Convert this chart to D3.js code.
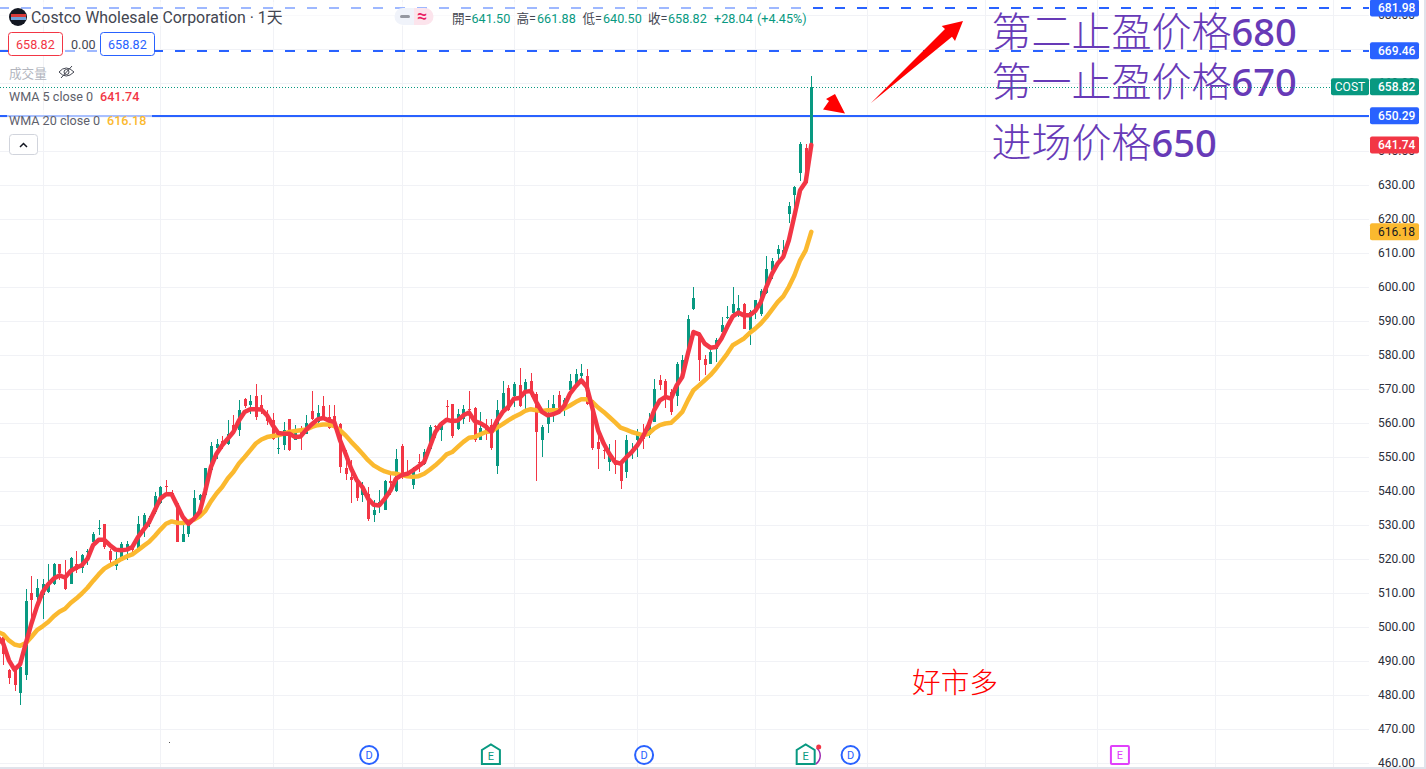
<!DOCTYPE html>
<html><head><meta charset="utf-8">
<style>html,body{margin:0;padding:0;background:#fff;overflow:hidden}svg{display:block}</style>
<script src="https://cdn.jsdelivr.net/npm/d3@7/dist/d3.min.js"></script>
</head><body><div id="c"></div>
<script>
const opens=[497,497.0,487.4,487.2,480.4,485.7,509.8,508.8,509.3,510.2,512.5,518.4,515.1,512.7,518.4,517.4,521.9,525,529,530.2,522.2,517.8,520.4,523,523.2,522.7,528.9,530.3,533.8,536.4,541.3,539.4,536.5,525,527.2,531.8,537.4,
538.7,546,552.6,554.6,553.7,559.3,557.8,566.9,565.1,567.8,565.1,562.7,560.7,552.2,553.4,561,554.8,558,556.8,563.4,560.2,564.8,561.7,561.9,559.6,546.8,544.1,542.3,538.7,539.2,532.8,536.2,534.5,542.8,539.9,553.1,545,541.6,548.6,
548,552.2,559.2,557.8,564.9,565.4,558.1,561.2,564.2,564.4,554.8,559.3,559.3,547.2,563.9,570.2,567.8,571,569,572.2,568.6,554.8,559.7,564.5,568.1,563.7,569.6,571.5,573.7,573.7,566.6,554.4,552.1,548.5,548.5,548,545.5,552.1,554.8,
556.3,556.3,560.3,572.5,572.2,569,567.8,575,581.3,593.6,586.2,578.9,577.2,581.8,586.7,590.7,592.3,591.6,595,587.4,593.3,591.9,598.2,605,609.6,608.5,621.5,626.9,633.5,640.9,641.5];
const closes=[495,492.1,484.9,482.8,488.2,507.5,507.8,511.5,512.7,512.7,518.4,515.8,511,520.1,516.8,521,522.2,527.2,529.2,523.5,519.6,519.8,524.3,524.5,522.5,530.3,532.8,532,538.4,541.1,541.1,538.2,525,527.2,530.8,538,538.7,
546.8,553.1,553.7,554.1,556.8,557.3,563.9,564.8,566.3,561.7,563.9,560.5,555.3,552.5,557.8,551.9,558.3,556.3,559.8,561.2,563,561.2,558.5,559.8,547,544.8,543.1,538,541.3,531.8,534.3,536.7,542.8,542.3,549.3,544.1,544.3,546.8,548.4,
551.4,558.9,558.8,559.9,564.7,556,562.7,564.2,563.7,554.8,558.6,557.8,552.7,563.7,568.8,563.7,571.5,564.8,572,568.4,557.3,558.9,562.2,565.4,563.9,566.6,572.2,574.3,574.7,565.4,552.7,552.2,551.9,550.1,547.5,542.9,554.8,552.4,556.8,
555.3,560.9,569.9,571,567.1,563.1,577.2,578.4,590.6,596.6,578.4,576.9,580.8,584.3,588.9,591.1,594.9,593.9,587.5,592.6,596.2,598.9,605.3,607.5,611,610.7,623.7,629.4,641.9,630.6,658.82];
const highs=[497.5,497.5,487.6,488.2,488.7,511,514.9,514,514,518.6,518.9,518.6,519.6,520.4,522.2,521.3,523,527.9,531.3,530.3,523,522,525,525.2,524,532.5,533.6,532.5,539.7,541.4,543.1,540.3,536.7,532.8,531.5,540.1,539.2,
546.8,554.4,555.3,556,560.9,562.2,566.6,567.4,568.1,571.3,568.1,563.7,562.9,556.3,560.2,561.2,559.5,559,562.2,569.3,565.3,567.8,565.1,565.1,559.8,551.9,549,542.6,542.6,541.1,537.2,540.1,543.1,544.6,552.2,553.7,549.2,547,550.9,
552.4,559.5,559.5,560.5,566.6,565.4,564.2,565.1,569.3,564.7,563.2,561.2,561.2,566.6,572.2,571,572,576.2,572.8,574.7,569,559.5,566.8,568.1,569.4,567.4,574.3,575.9,577.2,575.7,566.8,556.8,552.9,553.9,554.8,548.5,556.3,554,558.3,
559.6,563,572.8,574,573,570,577.9,579.9,591.6,600,586.7,579.9,581.8,585,591.1,594.3,600,597.5,595.3,593.1,596.2,599.5,609,608.5,612.2,613.7,625,629.6,642.6,641.9,661.88];
const lows=[494,488.7,483.3,481.1,476.9,484.3,501.9,505.8,502.4,509.8,512.2,513.7,510.9,512.5,515.8,515.8,518.1,524.5,526.9,522.8,518.6,516.6,519.6,519.6,521.3,522.3,526.4,529.4,533.3,536,539.7,537.2,525,525,526.4,531.5,532.8,
538.7,545.5,549.5,552.4,553.4,556.3,556.1,564.5,562.7,560.7,562.7,559.3,554.9,550.9,552.1,551.6,554.8,551.9,556.6,560.7,558.8,560.7,558.3,559.3,545.2,543.1,536.4,536.9,536.7,531.1,530.8,533.5,534.3,538.7,539.6,543.6,544.1,540.4,545.5,
547.5,551.9,555.6,554.6,560.7,555.6,557.8,559.7,560.2,554.4,554.8,555,552.1,544.8,563.7,563.5,564.7,564.7,563.7,567.6,542.9,549.9,557,560.2,563.2,562,569,571,571.5,565.1,552.1,546.5,549.5,545.8,544.8,540.4,543.9,549.5,549.9,
552.4,555.5,560.3,569.6,564.5,562.2,564.9,573,581.1,593.3,572.2,574,577.2,577.9,586.2,590.4,591.9,591.1,587.5,582.8,590.4,591.3,598,602.4,607.3,608.2,618.8,623.5,631,630.5,640.5];
const wma5=[497,495.05,490.15,487.4,489,495.05,500.9,506,510.2,512.5,514.2,515.1,514.5,516.4,517.4,518.1,520,524,525.6,525.6,524,522.7,522.5,522.7,523.5,526.4,528.6,530.8,534.3,537.7,539,539,535.7,532.3,530.3,531.8,533.8,
540,547,550.9,553.4,555.3,557.3,560.7,563.2,564,564,563.9,562.2,559.3,557,556.8,556.8,555.8,556,558,559.6,561,561.4,560.7,560.2,554.9,550.9,546.5,543.1,541.1,537.7,535.9,535.7,537.7,540.1,543.6,544.6,545,546,547.2,
548.5,552.9,557.3,559.6,560.9,560.5,560.7,562.2,563,560.5,559.9,558.9,557.3,560.7,563.2,564.7,567.1,567.3,569.1,569.4,566.1,563.2,562.2,562.5,563.2,565.1,568.6,570.7,572.5,570.5,564.2,557.8,553.9,550.9,548.5,548,549.8,551.4,553.4,
556,559.3,563.7,566.6,567.6,567.1,571,573.5,580.3,586.7,586,583.3,582.1,582.3,584.8,588.2,591.3,592.4,591.6,591.6,592.9,595.5,600,603.9,606.8,608.8,613.7,621,628.4,630.8,641.74];
const wma20=[498.5,497.8,496,494.8,494.4,495.2,497,499,500.15,501.4,503.1,504.4,505.3,507,508.3,509.8,511.5,513.5,515.4,517.1,518.1,518.9,519.9,520.7,521.3,522.5,523.8,525,526.7,528.6,530.3,531,530.6,530.5,531,531.5,532.5,
534.1,536.9,539.2,541.1,543.6,545.5,548,549.9,551.9,553.9,555.1,555.8,556.1,556.3,556.8,557.3,557.6,557.8,558,558.8,559.3,559.5,559.5,559,557.8,556.3,554.4,552.7,550.9,549,547.5,546.5,545.7,545.2,545,544.6,544.3,544.1,544.3,
545,546.2,547.5,549,550.7,551.4,552.9,554.4,555.6,555.8,556.6,557.3,557.5,558.6,559.6,560.7,561.7,562.5,563.5,564,563.7,563.5,563.7,563.7,563.7,564.2,565.1,566.1,566.9,566.9,566.1,564.5,563.2,561.7,560.2,558.6,558,557.3,556.8,
556.3,556.8,558.3,559.3,559.8,560,561.5,563.2,566.6,569.6,571,572.5,574,575.9,578.1,580.3,582.8,583.8,584.8,586.4,587.7,589.2,591.1,593.3,595.5,597.2,600,603.4,607.8,610.7,616.18];
const priceTicks=[460,470,480,490,500,510,520,530,540,550,560,570,580,590,600,610,620,630,640,650,660,670,680];
const gridIdx=[8,29,49,72,92,114,135,155,176,196,217,238];
const dividendIdx=[66.2,115.2,152];
const earningsIdx=[87.9,144];
const futureEarningsIdx=[200];
const tp2=681.98,tp1=669.46,entry=650.29,last=658.82,wma5Last=641.74,wma20Last=616.18;

const W=1426,H=769,GREEN="#089981",RED="#f23645",BLUE="#2962ff",YEL="#fbb92f",GRID="#f1f2f6";
const FONT="Roboto, 'Noto Sans CJK TC', sans-serif";
const x=d3.scaleLinear().domain([0,145]).range([-2.31,811.3]);
const y=d3.scaleLinear().domain([470,630]).range([728.8,184.8]);
const svg=d3.select("#c").append("svg").attr("width",W).attr("height",H).style("font-family",FONT);
const cx=i=>Math.round(x(i));

// grid
const g=svg.append("g").attr("shape-rendering","crispEdges");
g.selectAll(".h").data(priceTicks).join("rect").attr("x",0).attr("width",1369).attr("y",d=>Math.round(y(d))).attr("height",1).attr("fill",GRID);
g.selectAll(".v").data(gridIdx).join("rect").attr("x",d=>cx(d)).attr("width",1).attr("y",0).attr("height",767).attr("fill",GRID);

// annotation text
const addNote=(t,n,ty,tx)=>{const e=svg.append("text").attr("x",tx).attr("y",ty).attr("fill","#673ab7").attr("font-size",40);
 e.append("tspan").attr("font-family","'Noto Sans CJK SC'").attr("font-weight",300).text(t);
 e.append("tspan").attr("font-family","'Noto Sans','Open Sans'").attr("font-weight",500).attr("font-size",38).text(n);};
addNote("第二止盈价格","680",46,991.5);
addNote("第一止盈价格","670",96,991.5);
addNote("进场价格","650",157,991.5);
svg.append("text").attr("x",912).attr("y",693).attr("font-size",28.7).attr("fill","#ff0000").attr("font-family","'Noto Sans CJK SC'").attr("font-weight",300).text("好市多");

// price lines
const hline=(v,c,w,dash,off)=>svg.append("line").attr("x1",0).attr("x2",1369).attr("y1",Math.round(y(v))+(w%2?.5:0)).attr("y2",Math.round(y(v))+(w%2?.5:0)).attr("stroke",c).attr("stroke-width",w).attr("stroke-dasharray",dash).attr("stroke-dashoffset",off||0).attr("shape-rendering","crispEdges");
hline(last,GREEN,1,"1 2");
hline(tp2,BLUE,2,"10 12",1);
hline(tp1,BLUE,2,"10 12",1);
hline(entry,BLUE,2,null);

// candles
const idx=d3.range(opens.length);
const col=i=>closes[i]>=opens[i]?GREEN:RED;
const cg=svg.append("g").attr("shape-rendering","crispEdges");
cg.selectAll(".w").data(idx).join("rect").attr("x",cx).attr("width",1).attr("y",i=>y(highs[i])).attr("height",i=>y(lows[i])-y(highs[i])).attr("fill",col);
cg.selectAll(".b").data(idx).join("rect").attr("x",i=>cx(i)-1).attr("width",3)
 .attr("y",i=>y(Math.max(opens[i],closes[i]))).attr("height",i=>Math.max(1,Math.abs(y(opens[i])-y(closes[i])))).attr("fill",col);

// WMA
const ln=arr=>d3.line().x((d,i)=>x(i)).y(d=>y(d))(arr);
svg.append("path").attr("d",ln(wma20)).attr("fill","none").attr("stroke",YEL).attr("stroke-width",4.5).attr("stroke-linejoin","round").attr("stroke-linecap","round");
svg.append("path").attr("d",ln(wma5)).attr("fill","none").attr("stroke",RED).attr("stroke-width",4.5).attr("stroke-linejoin","round").attr("stroke-linecap","round");

// arrows
svg.append("path").attr("fill","#ff0000").attr("d","M871,103 L945,29 L941.7,26 L963,21 L955,41 L952,36.7 Z");
svg.append("path").attr("fill","#ff0000").attr("d","M845,113.5 L823,109.5 L829,101 L826,99 L835,94 Z");

// axis
const ax=d3.axisRight(y).tickValues(priceTicks).tickSize(0).tickPadding(0).tickFormat(d3.format(".2f"));
const axg=svg.append("g").attr("transform","translate(1378,0)").call(ax);
axg.select(".domain").remove();
axg.selectAll("text").attr("font-family",FONT).attr("font-size",12).attr("fill","#2a2e39");

// axis labels
const tag=(v,bg,fg,lab,wt)=>{const ty=y(v);
 svg.append("rect").attr("x",1370).attr("y",ty-8.5).attr("width",49).attr("height",17).attr("rx",2).attr("fill",bg);
 svg.append("text").attr("x",1378).attr("y",ty).attr("dy","0.36em").attr("fill",fg).attr("font-size",12).attr("font-weight",wt||500).text(d3.format(".2f")(v));
 if(lab){svg.append("rect").attr("x",1331).attr("y",ty-8.5).attr("width",38).attr("height",17).attr("rx",2).attr("fill",bg);
  svg.append("text").attr("x",1350).attr("y",ty).attr("dy","0.36em").attr("text-anchor","middle").attr("fill",fg).attr("font-size",12).text(lab);}};
tag(tp2,BLUE,"#fff");tag(tp1,BLUE,"#fff");tag(last,GREEN,"#fff","COST");tag(entry,BLUE,"#fff");tag(wma5Last,RED,"#fff");tag(wma20Last,YEL,"#131722",null,400);

// legend veils
const veil=(a,b,c,d,o)=>svg.append("rect").attr("x",a).attr("y",b).attr("width",c).attr("height",d).attr("fill","#fff").attr("opacity",o);
veil(0,2,806,24,.55);veil(63,36,37,18,.55);veil(7,110,145,18,.6);
const T=(s,tx,ty,c,fs,wt)=>{const t=svg.append("text").attr("x",tx).attr("y",ty).attr("dy","0.36em").attr("fill",c).attr("font-size",fs||12).text(s);if(wt)t.attr("font-weight",wt);return t;};
svg.append("circle").attr("cx",18).attr("cy",17).attr("r",9).attr("fill","#131722");
svg.append("rect").attr("x",11).attr("y",14).attr("width",15).attr("height",3).attr("fill","#d83a3a");
svg.append("rect").attr("x",11).attr("y",17).attr("width",15).attr("height",3).attr("fill","#6fa0d8");
T("Costco Wholesale Corporation · 1天",31,17,"#434651",15.9);
svg.append("path").attr("d","M403,8 H414 V25 H403 A8.5,8.5 0 0 1 403,8 Z").attr("fill","#f0f3fa");
svg.append("path").attr("d","M414,8 H425 A8.5,8.5 0 0 1 425,25 H414 Z").attr("fill","#fce4ec");
svg.append("rect").attr("x",400).attr("y",15).attr("width",10).attr("height",3).attr("rx",1.5).attr("fill","#9598a1");
T("≈",417,16,"#e91e63",18,500);
[["開=",452,"#434651"],["641.50",471.5,GREEN],["高=",516.5,"#434651"],["661.88",537,GREEN],["低=",582.5,"#434651"],["640.50",603,GREEN],["收=",648,"#434651"],["658.82",668,GREEN],["+28.04",714,GREEN],["(+4.45%)",757,GREEN]]
 .forEach(d=>T(d[0],d[1],18,d[2],12.6));
const box=(a,c,s)=>{svg.append("rect").attr("x",a+.5).attr("y",32.5).attr("width",54).attr("height",23).attr("rx",3).attr("fill","#fff").attr("stroke",c);T(s,a+8,44,c,12.6);};
box(8,RED,"658.82");box(100,BLUE,"658.82");
T("0.00",71,44,"#434651",12.6);
T("成交量",9,73,"#b2b5be",12.6);
svg.append("path").attr("d","M59,72 Q66,64 74,72 Q66,80 59,72 Z M61,78 L72,66").attr("fill","none").attr("stroke","#434651").attr("stroke-width",1);
svg.append("circle").attr("cx",66.5).attr("cy",72).attr("r",2.5).attr("fill","none").attr("stroke","#434651");
T("WMA 5 close 0",9,96,"#5d606b",12.6);T(wma5Last.toFixed(2),100,96,RED,12.6,500);
T("WMA 20 close 0",9,120,"#5d606b",12.6);T(wma20Last.toFixed(2),107,120,YEL,12.6,500);
svg.append("rect").attr("x",9.5).attr("y",134.5).attr("width",28).attr("height",20).attr("rx",3).attr("fill","#fff").attr("stroke","#d1d4dc");
svg.append("path").attr("d","M20,147 L23.5,143.5 L27,147").attr("fill","none").attr("stroke","#131722").attr("stroke-width",1.5);

// event markers
const evY=755;
svg.selectAll(".d").data(dividendIdx).join("circle").attr("cx",x).attr("cy",evY).attr("r",9).attr("fill","#fff").attr("stroke",BLUE).attr("stroke-width",2);
svg.selectAll(".dt").data(dividendIdx).join("text").attr("x",x).attr("y",evY).attr("dy","0.36em").attr("text-anchor","middle").attr("font-size",11).attr("fill",BLUE).text("D");
svg.append("path").attr("d",`M${x(144)+11},748 A10,10 0 0 1 ${x(144)+10},764`).attr("fill","none").attr("stroke","#9c27b0").attr("stroke-width",1.5);
const house=d=>{const c=x(d);return `M${c-9},764 V750 L${c},744.5 L${c+9},750 V764 Z`;};
svg.selectAll(".e").data(earningsIdx).join("path").attr("d",house).attr("fill","#fff").attr("stroke",GREEN).attr("stroke-width",2);
svg.selectAll(".et").data(earningsIdx).join("text").attr("x",x).attr("y",756).attr("dy","0.36em").attr("text-anchor","middle").attr("font-size",11).attr("fill",GREEN).text("E");
svg.append("circle").attr("cx",x(144)+13).attr("cy",747).attr("r",2.5).attr("fill",RED);
svg.selectAll(".f").data(futureEarningsIdx).join("rect").attr("x",d=>x(d)-9).attr("y",746).attr("width",18).attr("height",18).attr("rx",1).attr("fill","#fff").attr("stroke","#e040fb").attr("stroke-width",2);
svg.selectAll(".ft").data(futureEarningsIdx).join("text").attr("x",x).attr("y",755).attr("dy","0.36em").attr("text-anchor","middle").attr("font-size",11).attr("fill","#e040fb").text("E");
svg.append("rect").attr("x",169).attr("y",742).attr("width",1).attr("height",1).attr("fill","#555");

// page frame
svg.append("rect").attr("x",0).attr("y",767).attr("width",W).attr("height",2).attr("fill","#e0e3eb");
svg.append("rect").attr("x",1424).attr("y",0).attr("width",2).attr("height",H).attr("fill","#e0e3eb");
</script></body></html>
